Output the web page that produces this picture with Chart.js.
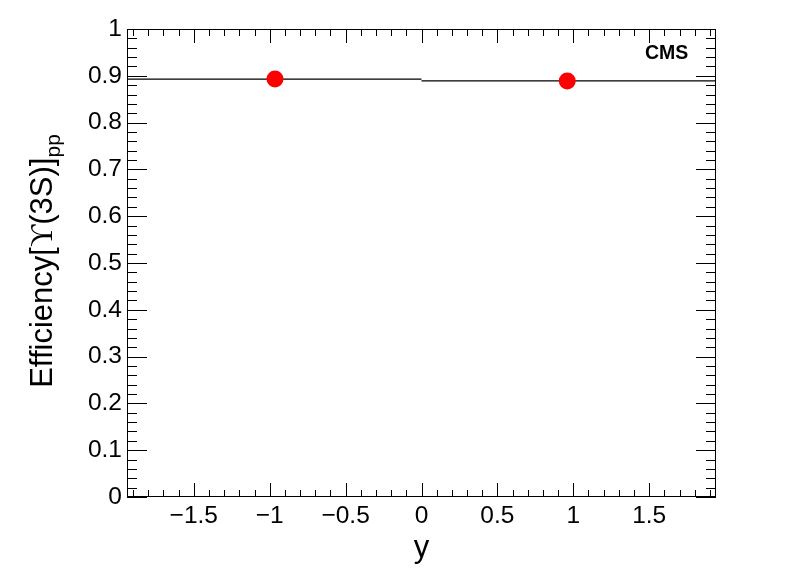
<!DOCTYPE html>
<html>
<head>
<meta charset="utf-8">
<script src="https://cdn.jsdelivr.net/npm/chart.js@4.4.1/dist/chart.umd.min.js"></script>
<style>
  html, body { margin: 0; padding: 0; background: #fff; }
  #wrap { width: 796px; height: 572px; }
</style>
</head>
<body>
<div id="wrap"><canvas id="effChart" width="796" height="572"></canvas></div>
<script>
// Upsilon(3S) efficiency in pp vs rapidity
const rapidity = [-0.965, 0.96];
const efficiency = [0.893, 0.889];
const binLow = [-1.94, 0];
const binHigh = [0, 1.94];
const xRange = [-1.94, 1.94];
const yRange = [0, 1];

const FONT = "'Liberation Sans', Arial, Helvetica, sans-serif";
const fmtTick = v => (Math.round(v * 10) / 10).toString().replace('-', '\u2212');

// ROOT-like frame with inward ticks on all four sides
const frameTicks = {
    id: 'frameTicks',
    afterDraw(chart) {
        const { ctx, chartArea: a, scales: { x, y } } = chart;
        ctx.save();
        ctx.strokeStyle = '#000';
        ctx.lineWidth = 1;
        ctx.strokeRect(a.left + 0.5, a.top + 0.5, a.right - a.left - 1, a.bottom - a.top - 1);
        ctx.beginPath();
        // x ticks, 0.5 major / 0.1 minor
        for (let i = Math.ceil(xRange[0] * 10); i <= Math.floor(xRange[1] * 10); i++) {
            const px = Math.round(x.getPixelForValue(i / 10)) + 0.5;
            const len = i % 5 === 0 ? 14 : 7;
            ctx.moveTo(px, a.bottom); ctx.lineTo(px, a.bottom - len);
            ctx.moveTo(px, a.top); ctx.lineTo(px, a.top + len);
        }
        // y ticks, 0.1 major / 0.02 minor
        for (let i = 0; i <= 50; i++) {
            const py = Math.round(y.getPixelForValue(i / 50)) + 0.5;
            const len = i % 5 === 0 ? 20 : 10;
            ctx.moveTo(a.left, py); ctx.lineTo(a.left + len, py);
            ctx.moveTo(a.right, py); ctx.lineTo(a.right - len, py);
        }
        ctx.stroke();

        // axis titles
        ctx.fillStyle = '#000';
        ctx.textBaseline = 'alphabetic';
        ctx.font = `31px ${FONT}`;
        ctx.textAlign = 'center';
        ctx.fillText('y', (a.left + a.right) / 2, 557);

        // y title: Efficiency[ϒ(3S)]_pp
        const parts = [
            { t: 'Efficiency[', f: `31px ${FONT}`, dy: 0 },
            { t: '\u03D2', f: `31px 'Liberation Serif', 'DejaVu Serif', serif`, dy: 0 },
            { t: '(3S)]', f: `31px ${FONT}`, dy: 0 },
            { t: 'pp', f: `21px ${FONT}`, dy: 8 }
        ];
        let total = 0;
        parts.forEach(p => { ctx.font = p.f; p.w = ctx.measureText(p.t).width; total += p.w; });
        ctx.translate(52, (a.top + a.bottom) / 2 - 2);
        ctx.rotate(-Math.PI / 2);
        ctx.textAlign = 'left';
        let cx = -total / 2;
        parts.forEach(p => { ctx.font = p.f; ctx.fillText(p.t, cx, p.dy); cx += p.w; });
        ctx.restore();

        ctx.save();
        ctx.fillStyle = '#000';
        ctx.font = `bold 19.5px ${FONT}`;
        ctx.textAlign = 'left';
        ctx.fillText('CMS', 645, 59);
        ctx.restore();
    }
};

// horizontal bin-width error bars
const binBars = {
    id: 'binBars',
    beforeDatasetsDraw(chart) {
        const { ctx, scales: { x, y } } = chart;
        ctx.save();
        ctx.strokeStyle = '#000';
        ctx.lineWidth = 1.2;
        ctx.beginPath();
        efficiency.forEach((e, i) => {
            const py = y.getPixelForValue(e);
            ctx.moveTo(x.getPixelForValue(binLow[i]), py);
            ctx.lineTo(x.getPixelForValue(binHigh[i]), py);
        });
        ctx.stroke();
        ctx.restore();
    }
};

new Chart(document.getElementById('effChart'), {
    type: 'scatter',
    data: {
        datasets: [{
            data: rapidity.map((v, i) => ({ x: v, y: efficiency[i] })),
            backgroundColor: '#ff0000',
            borderWidth: 0,
            pointRadius: 8.5,
            pointHoverRadius: 8.5
        }]
    },
    options: {
        responsive: false,
        animation: false,
        devicePixelRatio: 1,
        layout: { padding: { top: 29, right: 80, left: 0, bottom: 0 } },
        plugins: { legend: { display: false }, tooltip: { enabled: false } },
        scales: {
            x: {
                type: 'linear', min: xRange[0], max: xRange[1],
                grid: { display: false, drawTicks: false },
                border: { display: false },
                ticks: {
                    stepSize: 0.5, includeBounds: false, maxRotation: 0, autoSkip: false,
                    color: '#000', padding: 5, font: { family: FONT, size: 24.5 },
                    callback: fmtTick
                },
                afterFit: s => { s.height = 75; }
            },
            y: {
                type: 'linear', min: yRange[0], max: yRange[1],
                grid: { display: false, drawTicks: false },
                border: { display: false },
                ticks: {
                    stepSize: 0.1, includeBounds: false, autoSkip: false,
                    color: '#000', padding: 5, font: { family: FONT, size: 24.5 },
                    callback: fmtTick
                },
                afterFit: s => { s.width = 127; }
            }
        }
    },
    plugins: [binBars, frameTicks]
});
</script>
</body>
</html>
